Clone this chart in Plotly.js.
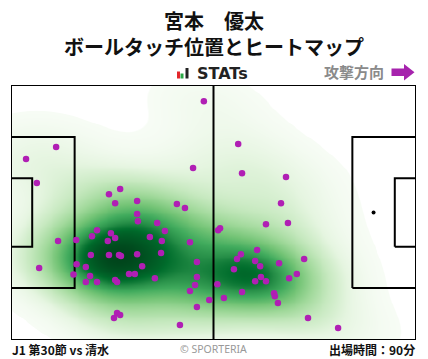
<!DOCTYPE html>
<html>
<head>
<meta charset="utf-8">
<script src="https://cdn.plot.ly/plotly-3.0.1.min.js"></script>
<style>
html,body{margin:0;padding:0;background:#fff;}
#chart{width:428px;height:359px;}
</style>
</head>
<body>
<div id="chart"></div>
<script>
// ---- Data: ball touch positions (metres, pitch 105 x 68, attacking to the right) ----
const touchX = [50.0,11.7,3.9,6.7,47.2,25.4,28.3,27.0,32.7,43.0,45.1,32.7,32.9,37.9,39.9,22.3,21.0,25.9,27.0,25.1,
  36.0,39.1,12.2,16.9,46.4,20.7,25.4,28.0,28.5,32.7,38.9,17.0,48.2,19.4,34.0,7.3,16.2,20.5,30.6,32.1,
  48.2,19.4,22.3,27.0,27.5,37.3,47.7,46.4,51.4,48.2,27.5,28.3,26.7,43.8,58.9,59.9,71.3,70.0,53.7,54.2,
  66.1,71.8,59.6,63.8,58.6,63.3,64.6,69.5,76.0,57.8,64.8,63.3,66.1,72.1,74.1,53.5,59.9,55.2,68.2,68.4,
  69.2,77.0,84.8];
const touchY = [63.7,51.5,48.3,41.9,45.9,38.9,40.3,36.5,37.1,36.3,35.2,33.6,31.7,31.2,29.1,29.3,27.7,28.5,27.2,26.4,
  27.5,26.4,26.4,26.7,26.1,22.7,22.7,22.7,22.4,22.9,23.2,20.2,20.8,19.5,19.7,19.2,17.5,17.1,17.6,17.6,
  16.8,15.5,15.5,16.0,15.5,16.5,14.7,13.1,10.7,8.8,7.2,6.7,5.9,4.0,52.3,44.5,43.5,36.5,29.3,29.8,
  30.9,31.2,22.9,24.0,21.6,21.1,19.7,20.5,21.6,18.9,16.8,15.7,15.7,16.5,17.6,14.9,12.8,11.2,12.5,11.7,
  9.9,5.9,3.2];

const titleLines = ['宮本　優太', 'ボールタッチ位置とヒートマップ'];
const matchLabel = 'J1 第30節 vs 清水';
const minutesLabel = '出場時間：90分';
const directionLabel = '攻撃方向';
const creditLabel = '© SPORTERIA';

// ---- Pitch geometry (metres) ----
const L = 105, W = 68;
const PEN_D = 16.5, PEN_W = 40.32, GA_D = 5.5, GA_W = 18.32, SPOT = 11;

// ---- Gaussian KDE (Scott's rule, full covariance) -> iso-proportion levels ----
function kdeProportion(xs, ys, gx, gy, adjust){
  const n = xs.length;
  const mx = xs.reduce((a,b)=>a+b,0)/n, my = ys.reduce((a,b)=>a+b,0)/n;
  let sxx=0, syy=0, sxy=0;
  for(let i=0;i<n;i++){const dx=xs[i]-mx, dy=ys[i]-my; sxx+=dx*dx; syy+=dy*dy; sxy+=dx*dy;}
  sxx/=(n-1); syy/=(n-1); sxy/=(n-1);
  const f2 = Math.pow(n, -1/3)*adjust*adjust;
  const a = sxx*f2, b = sxy*f2, c = syy*f2;
  const det = a*c-b*b;
  const ia = c/det, ib = -b/det, ic = a/det;
  const z = [], flat = [];
  for(let j=0;j<gy.length;j++){
    const row=[];
    for(let i=0;i<gx.length;i++){
      let s=0;
      for(let k=0;k<n;k++){
        const dx=gx[i]-xs[k], dy=gy[j]-ys[k];
        s+=Math.exp(-0.5*(ia*dx*dx+2*ib*dx*dy+ic*dy*dy));
      }
      row.push(s); flat.push(s);
    }
    z.push(row);
  }
  const sorted = flat.slice().sort((p,q)=>p-q);
  const total = sorted.reduce((p,q)=>p+q,0);
  const cum = new Float64Array(sorted.length);
  let acc=0; for(let i=0;i<sorted.length;i++){acc+=sorted[i]; cum[i]=acc/total;}
  function lookup(v){
    let lo=0, hi=sorted.length-1;
    while(lo<hi){const mid=(lo+hi+1)>>1; if(sorted[mid]<=v) lo=mid; else hi=mid-1;}
    return cum[lo];
  }
  return z.map(r=>r.map(lookup));
}
const gx=[], gy=[];
for(let x=-25;x<=L+25+1e-9;x+=0.75) gx.push(x);
for(let y=-25;y<=W+25+1e-9;y+=0.75) gy.push(y);
const density = kdeProportion(touchX, touchY, gx, gy, 1.08);

const greens = ['#f7fcf5','#e5f5e0','#c7e9c0','#a1d99b','#74c476','#41ab5d','#238b45','#006d2c','#00441b'];
const thresh = 0.015;
const cscale = [[0,'#ffffff'],[thresh-0.001,'#ffffff']].concat(greens.map((c,i)=>[thresh+(1-thresh)*i/(greens.length-1), c]));

// pitch line traces
function rectPath(x0,y0,x1,y1){return {x:[x0,x1,x1,x0,x0], y:[y0,y0,y1,y1,y0]};}
const lineSegs = [
  rectPath(0,(W-PEN_W)/2,PEN_D,(W+PEN_W)/2),
  rectPath(0,(W-GA_W)/2,GA_D,(W+GA_W)/2),
  rectPath(L-PEN_D,(W-PEN_W)/2,L,(W+PEN_W)/2),
  rectPath(L-GA_D,(W-GA_W)/2,L,(W+GA_W)/2),
  {x:[L/2,L/2], y:[0,W]},
  rectPath(0,0,L,W)
];
const traces = [{
  type:'heatmap', x:gx, y:gy, z:density, zmin:0, zmax:1, colorscale:cscale,
  zsmooth:'best', showscale:false, hoverinfo:'skip'
}];
lineSegs.forEach(s=>traces.push({type:'scatter',mode:'lines',x:s.x,y:s.y,
  line:{color:'#000',width:2},hoverinfo:'skip',showlegend:false,cliponaxis:false}));
traces.push({type:'scatter',mode:'markers',x:[L-SPOT],y:[W/2],
  marker:{color:'#000',size:4},hoverinfo:'skip',showlegend:false});
traces.push({type:'scatter',mode:'markers',x:touchX,y:touchY,
  marker:{color:'#b01fb4',size:6.5,line:{width:0}},showlegend:false,cliponaxis:false});

// decoration coordinates (pixel -> paper)
const ML=11, MR=12, MT=85, MB=19, FW=428, FH=359;
const PW=FW-ML-MR, PH=FH-MT-MB;
const PX = p => (p-ML)/PW;
const PY = p => (FH-MB-p)/PH;
const CJK = 'Noto Sans CJK JP';

const layout = {
  width:FW, height:FH,
  margin:{l:ML,r:MR,t:MT,b:MB,pad:0},
  paper_bgcolor:'#fff', plot_bgcolor:'#fff',
  showlegend:false,
  title:{text:'<b>'+titleLines[0]+'</b>',
    font:{family:CJK,size:20,color:'#111'},
    x:0.5, xref:'container', y:1-21.5/FH, yref:'container', yanchor:'middle', xanchor:'center'},
  xaxis:{range:[0,L],showgrid:false,zeroline:false,showticklabels:false,ticks:'',fixedrange:true},
  yaxis:{range:[0,W],showgrid:false,zeroline:false,showticklabels:false,ticks:'',fixedrange:true},
  shapes:[
    {type:'rect',xref:'paper',yref:'paper',x0:PX(177),x1:PX(180),y0:PY(78.5),y1:PY(71.5),fillcolor:'#e3262b',line:{width:0}},
    {type:'rect',xref:'paper',yref:'paper',x0:PX(180.5),x1:PX(183.5),y0:PY(78.5),y1:PY(73.5),fillcolor:'#2aa846',line:{width:0}},
    {type:'rect',xref:'paper',yref:'paper',x0:PX(185.5),x1:PX(188.5),y0:PY(78.5),y1:PY(68),fillcolor:'#222',line:{width:0}},
    {type:'path',xref:'paper',yref:'paper',
      path:`M ${PX(391.5)} ${PY(68.5)} L ${PX(404)} ${PY(68.5)} L ${PX(404)} ${PY(64)} L ${PX(414.5)} ${PY(72.3)} L ${PX(404)} ${PY(80.5)} L ${PX(404)} ${PY(76)} L ${PX(391.5)} ${PY(76)} Z`,
      fillcolor:'#a623ad',line:{width:0}}
  ],
  annotations:[
    {text:'<b>'+titleLines[1]+'</b>',xref:'paper',yref:'paper',x:PX(214),y:PY(46),xanchor:'center',yanchor:'middle',
      showarrow:false,font:{family:CJK,size:20,color:'#111'}},
    {text:'<b>STATs</b>',xref:'paper',yref:'paper',x:PX(222.5),y:PY(73.5),xanchor:'center',yanchor:'middle',
      showarrow:false,font:{family:'DejaVu Sans',size:16,color:'#222'}},
    {text:'<b>'+directionLabel+'</b>',xref:'paper',yref:'paper',x:PX(386),y:PY(72),xanchor:'right',yanchor:'middle',
      showarrow:false,font:{family:CJK,size:15,color:'#8a8a8a'}},
    {text:'<b>'+matchLabel+'</b>',xref:'paper',yref:'paper',x:PX(10),y:PY(349),xanchor:'left',yanchor:'middle',
      showarrow:false,font:{family:CJK,size:12,color:'#111'}},
    {text:creditLabel,xref:'paper',yref:'paper',x:PX(213),y:PY(348.5),xanchor:'center',yanchor:'middle',
      showarrow:false,font:{family:'Noto Sans',size:10.5,color:'#999'}},
    {text:'<b>'+minutesLabel+'</b>',xref:'paper',yref:'paper',x:PX(417),y:PY(349),xanchor:'right',yanchor:'middle',
      showarrow:false,font:{family:CJK,size:12,color:'#111'}}
  ]
};
Plotly.newPlot('chart', traces, layout, {staticPlot:true, displayModeBar:false});
</script>
</body>
</html>
